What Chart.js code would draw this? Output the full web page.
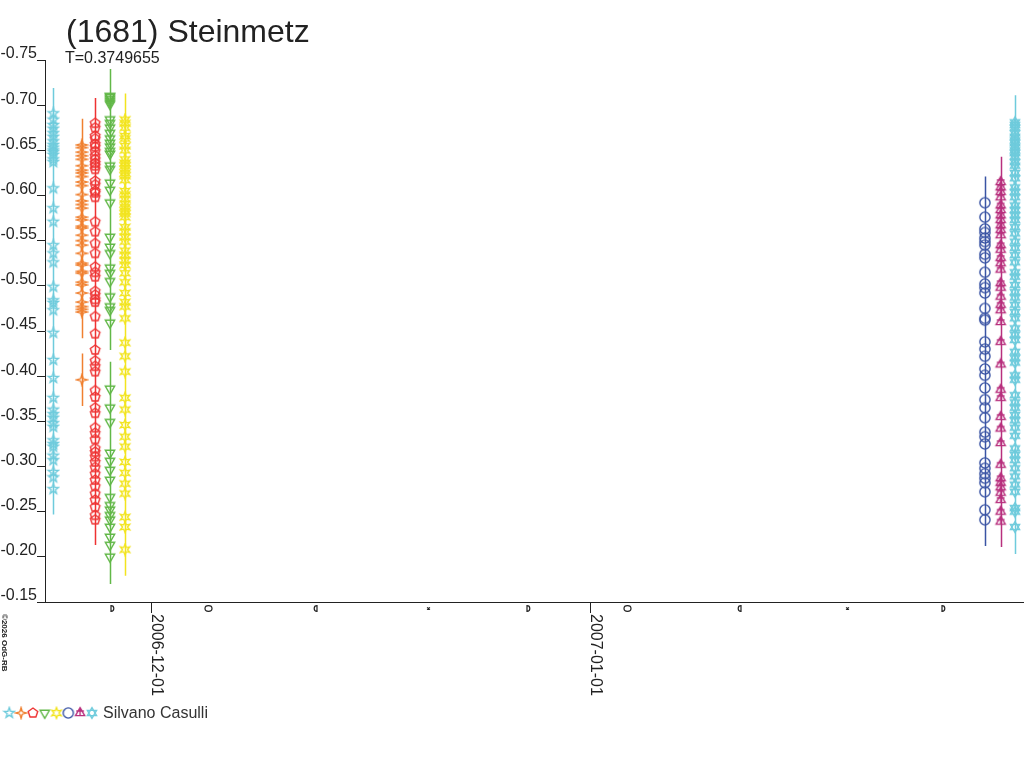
<!DOCTYPE html>
<html>
<head>
<meta charset="utf-8">
<title>(1681) Steinmetz</title>
<script src="https://cdn.jsdelivr.net/npm/chart.js@4.4.0/dist/chart.umd.min.js"></script>
<style>
  html, body { margin: 0; padding: 0; background: #fff; }
  #box { width: 1024px; height: 768px; }
</style>
</head>
<body>
<div id="box"><canvas id="lightCurve" width="1024" height="768"></canvas></div>
<script>
const titleText = '(1681) Steinmetz';
const periodText = 'T=0.3749655';
const observerName = 'Silvano Casulli';
const copyrightText = '\u00a92026 OdG-RB';

// x is in days since 2006-12-01 00:00 UT
const nightDays = [-6.90, -4.89, -3.95, -2.90, -1.84, 58.89, 60.00, 61.01];
const nightColors = ['#6ecbdc', '#f08030', '#ee3232', '#62b848', '#f2e41e', '#3a54a4', '#b8307e', '#6ecbdc'];
const nightMarkers = ['star5', 'star4', 'pentagon', 'triangleDown', 'star6', 'circle', 'triangleCross', 'hexagram'];
const nightErrors = [0.028, 0.029, 0.028, 0.030, 0.029, 0.029, 0.028, 0.030];

const magNov24 = [-0.691, -0.684, -0.678, -0.674, -0.669, -0.665, -0.660, -0.656, -0.653, -0.650, -0.648, -0.645,
  -0.640, -0.637, -0.608, -0.586, -0.571, -0.545, -0.536, -0.526, -0.499, -0.484, -0.481, -0.473, -0.448, -0.418,
  -0.398, -0.376, -0.363, -0.358, -0.354, -0.348, -0.344, -0.329, -0.325, -0.322, -0.312, -0.307, -0.294, -0.288, -0.275];
const magNov26 = [-0.656, -0.653, -0.648, -0.644, -0.640, -0.633, -0.628, -0.625, -0.621, -0.615, -0.611, -0.601,
  -0.594, -0.590, -0.586, -0.576, -0.573, -0.566, -0.564, -0.556, -0.550, -0.545, -0.536, -0.525, -0.523, -0.516,
  -0.514, -0.504, -0.501, -0.492, -0.482, -0.477, -0.474, -0.471, -0.396];
const magNov27 = [-0.680, -0.675, -0.666, -0.663, -0.657, -0.654, -0.649, -0.644, -0.640, -0.636, -0.633, -0.629,
  -0.616, -0.612, -0.605, -0.603, -0.598, -0.571, -0.560, -0.547, -0.536, -0.521, -0.515, -0.510, -0.494, -0.490,
  -0.485, -0.482, -0.466, -0.447, -0.429, -0.417, -0.411, -0.405, -0.384, -0.377, -0.365, -0.359, -0.343, -0.337,
  -0.330, -0.320, -0.316, -0.311, -0.305, -0.299, -0.292, -0.285, -0.278, -0.270, -0.263, -0.255, -0.246, -0.241];
const magNov28 = [-0.710, -0.709, -0.707, -0.705, -0.703, -0.701, -0.684, -0.680, -0.675, -0.669, -0.663, -0.658,
  -0.654, -0.649, -0.646, -0.633, -0.629, -0.614, -0.606, -0.592, -0.554, -0.543, -0.536, -0.520, -0.514, -0.505,
  -0.488, -0.477, -0.473, -0.459, -0.386, -0.365, -0.349, -0.315, -0.306, -0.296, -0.285, -0.266, -0.257, -0.252,
  -0.246, -0.241, -0.233, -0.222, -0.213, -0.200];
const magNov29 = [-0.684, -0.680, -0.675, -0.666, -0.663, -0.655, -0.650, -0.640, -0.636, -0.633, -0.629, -0.625,
  -0.622, -0.617, -0.605, -0.601, -0.596, -0.591, -0.587, -0.583, -0.580, -0.576, -0.565, -0.560, -0.554, -0.549,
  -0.539, -0.534, -0.528, -0.523, -0.514, -0.504, -0.492, -0.482, -0.477, -0.464, -0.437, -0.422, -0.405, -0.376,
  -0.363, -0.346, -0.333, -0.322, -0.305, -0.293, -0.281, -0.270, -0.244, -0.233, -0.208];
const magJan28 = [-0.592, -0.576, -0.563, -0.559, -0.553, -0.549, -0.545, -0.535, -0.531, -0.515, -0.502, -0.498,
  -0.492, -0.475, -0.464, -0.462, -0.438, -0.430, -0.422, -0.408, -0.401, -0.387, -0.374, -0.365, -0.354, -0.338,
  -0.333, -0.325, -0.304, -0.298, -0.292, -0.287, -0.282, -0.272, -0.252, -0.241];
const magJan30 = [-0.615, -0.609, -0.604, -0.598, -0.589, -0.584, -0.578, -0.573, -0.567, -0.562, -0.556, -0.545,
  -0.540, -0.531, -0.525, -0.518, -0.503, -0.498, -0.488, -0.479, -0.473, -0.460, -0.438, -0.413, -0.385, -0.376,
  -0.355, -0.342, -0.326, -0.302, -0.287, -0.282, -0.277, -0.271, -0.263, -0.250, -0.239];
const magJan31 = [-0.681, -0.678, -0.675, -0.669, -0.665, -0.661, -0.658, -0.654, -0.650, -0.647, -0.643, -0.637,
  -0.633, -0.625, -0.619, -0.609, -0.604, -0.598, -0.589, -0.584, -0.578, -0.573, -0.565, -0.558, -0.549, -0.542,
  -0.534, -0.526, -0.515, -0.510, -0.501, -0.493, -0.487, -0.479, -0.471, -0.464, -0.453, -0.446, -0.440, -0.427,
  -0.420, -0.415, -0.401, -0.396, -0.379, -0.371, -0.365, -0.357, -0.351, -0.343, -0.334, -0.320, -0.313, -0.307,
  -0.298, -0.289, -0.280, -0.272, -0.254, -0.250, -0.233];
const nightMags = [magNov24, magNov26, magNov27, magNov28, magNov29, magJan28, magJan30, magJan31];

const dateTicks = [0, 31];
const dateLabels = ['2006-12-01', '2007-01-01'];
const moonDays = [-2.73, 4.02, 11.61, 19.58, 26.62, 33.58, 41.53, 49.17, 55.96];
const moonPhases = ['first', 'full', 'last', 'new', 'first', 'full', 'last', 'new', 'first'];

const xMin = -7.49, xMax = 61.65;
const yMin = -0.75, yMax = -0.15, yStep = 0.05;

const ink = '#222';
Chart.defaults.font.family = '"Liberation Sans", Arial, sans-serif';

function starPath(g, n, ro, ri, rot) {
  for (let i = 0; i < 2 * n; i++) {
    const r = i % 2 ? ri : ro;
    const a = rot + i * Math.PI / n;
    if (i === 0) g.moveTo(r * Math.cos(a), r * Math.sin(a));
    else g.lineTo(r * Math.cos(a), r * Math.sin(a));
  }
  g.closePath();
}

function polyPath(g, n, r, rot) {
  for (let i = 0; i < n; i++) {
    const a = rot + i * 2 * Math.PI / n;
    if (i === 0) g.moveTo(r * Math.cos(a), r * Math.sin(a));
    else g.lineTo(r * Math.cos(a), r * Math.sin(a));
  }
  g.closePath();
}

function makeMarker(kind, color) {
  const c = document.createElement('canvas');
  c.width = 14;
  c.height = 14;
  const g = c.getContext('2d');
  g.strokeStyle = color;
  g.lineWidth = 1.4;
  g.translate(7, 7);
  g.beginPath();
  const up = -Math.PI / 2;
  if (kind === 'star5') starPath(g, 5, 5.4, 2.2, up);
  if (kind === 'star4') starPath(g, 4, 5.3, 1.7, up);
  if (kind === 'pentagon') polyPath(g, 5, 5.0, up);
  if (kind === 'triangleDown') polyPath(g, 3, 5.4, Math.PI / 2);
  if (kind === 'star6') starPath(g, 6, 5.4, 2.5, up);
  if (kind === 'circle') g.arc(0, 0, 5.1, 0, Math.PI * 2);
  if (kind === 'triangleCross') {
    polyPath(g, 3, 5.3, up);
    g.moveTo(0, -5.5); g.lineTo(0, 3);
    g.moveTo(-3.8, -2); g.lineTo(3.8, -2);
  }
  if (kind === 'hexagram') {
    polyPath(g, 3, 5.3, up);
    polyPath(g, 3, 5.3, Math.PI / 2);
  }
  g.stroke();
  return c;
}

const markerImages = nightMarkers.map((k, i) => makeMarker(k, nightColors[i]));

const datasets = nightMags.map((mags, i) => ({
  label: observerName,
  data: mags.map(v => ({ x: nightDays[i], y: v })),
  borderColor: nightColors[i],
  backgroundColor: nightColors[i],
  pointStyle: markerImages[i],
  showLine: false
}));

// vertical error bars, drawn under the markers
const errorBars = {
  id: 'errorBars',
  beforeDatasetsDraw(chart) {
    const { ctx, scales: { x, y } } = chart;
    ctx.save();
    ctx.lineWidth = 1.5;
    chart.data.datasets.forEach((ds, i) => {
      const err = nightErrors[i];
      ctx.strokeStyle = nightColors[i];
      ctx.beginPath();
      ds.data.forEach(p => {
        const px = Math.round(x.getPixelForValue(p.x)) + 0.5;
        ctx.moveTo(px, y.getPixelForValue(p.y - err));
        ctx.lineTo(px, y.getPixelForValue(p.y + err));
      });
      ctx.stroke();
    });
    ctx.restore();
  }
};

function drawMoon(ctx, px, py, phase) {
  ctx.beginPath();
  if (phase === 'full') {
    ctx.ellipse(px, py, 3.5, 2.8, 0, 0, Math.PI * 2);
  } else if (phase === 'first') {
    ctx.moveTo(px - 1.5, py - 3.5);
    ctx.lineTo(px - 1.5, py + 3.5);
    ctx.moveTo(px - 1.5, py - 2.8);
    ctx.arc(px - 1.5, py, 2.8, -Math.PI / 2, Math.PI / 2);
  } else if (phase === 'last') {
    ctx.moveTo(px + 1.5, py - 3.5);
    ctx.lineTo(px + 1.5, py + 3.5);
    ctx.moveTo(px + 1.5, py - 2.8);
    ctx.arc(px + 1.5, py, 2.8, -Math.PI / 2, Math.PI / 2, true);
  } else {
    ctx.moveTo(px - 1.5, py - 1); ctx.lineTo(px + 1.5, py + 1);
    ctx.moveTo(px + 1.5, py - 1); ctx.lineTo(px - 1.5, py + 1);
  }
  ctx.stroke();
}

const decorations = {
  id: 'decorations',
  afterDraw(chart) {
    const { ctx, scales: { x, y } } = chart;
    const font = Chart.defaults.font.family;
    ctx.save();
    ctx.fillStyle = ink;
    ctx.strokeStyle = ink;
    ctx.lineWidth = 1.2;
    ctx.textBaseline = 'alphabetic';
    ctx.textAlign = 'left';

    ctx.font = '32px ' + font;
    ctx.fillText(titleText, 66, 42);
    ctx.font = '16px ' + font;
    ctx.fillText(periodText, 65, 63);

    // date labels, rotated clockwise, starting below the tick
    const base = y.bottom;
    dateTicks.forEach((d, i) => {
      const px = Math.round(x.getPixelForValue(d)) + 0.5;
      ctx.save();
      ctx.translate(px + 0.5, base + 12);
      ctx.rotate(Math.PI / 2);
      ctx.font = '16px ' + font;
      ctx.fillText(dateLabels[i], 0, 0);
      ctx.restore();
    });

    moonDays.forEach((d, i) => {
      drawMoon(ctx, Math.round(x.getPixelForValue(d)) + 0.5, base + 6.5, moonPhases[i]);
    });

    ctx.save();
    ctx.translate(2, 614);
    ctx.rotate(Math.PI / 2);
    ctx.font = 'bold 8px ' + font;
    ctx.fillText(copyrightText, 0, 0);
    ctx.restore();

    // legend: one observer, all night markers
    markerImages.forEach((img, i) => {
      ctx.drawImage(img, 9.3 + i * 11.8 - 7, 713 - 7);
    });
    ctx.fillStyle = '#333';
    ctx.font = '16px ' + font;
    ctx.fillText(observerName, 103, 718);
    ctx.restore();
  }
};

new Chart(document.getElementById('lightCurve'), {
  type: 'scatter',
  data: { datasets },
  plugins: [errorBars, decorations],
  options: {
    responsive: false,
    devicePixelRatio: 1,
    animation: false,
    events: [],
    layout: { autoPadding: false, padding: { top: 60, left: 0, right: 0, bottom: 155 } },
    plugins: {
      legend: { display: false },
      tooltip: { enabled: false },
      title: { display: false }
    },
    scales: {
      x: {
        type: 'linear',
        min: xMin,
        max: xMax,
        afterBuildTicks: s => { s.ticks = dateTicks.map(v => ({ value: v })); },
        afterFit: s => { s.height = 11; },
        ticks: { display: false },
        grid: { drawOnChartArea: false, tickLength: 11, color: ink },
        border: { color: ink, width: 1 }
      },
      y: {
        type: 'linear',
        reverse: true,
        min: yMin,
        max: yMax,
        afterFit: s => { s.width = 45; },
        ticks: {
          stepSize: yStep,
          callback: v => v.toFixed(2),
          font: { size: 16 },
          color: ink,
          padding: 0,
          labelOffset: -6
        },
        grid: { drawOnChartArea: false, tickLength: 8, color: ink },
        border: { color: ink, width: 1 }
      }
    }
  }
});
</script>
</body>
</html>
